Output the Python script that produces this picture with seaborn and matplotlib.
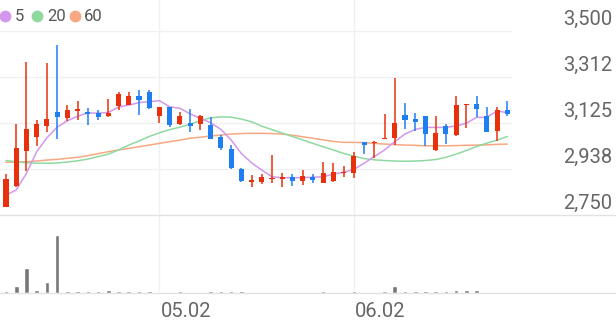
import numpy as np
import pandas as pd
import matplotlib
matplotlib.use("Agg")
import matplotlib.pyplot as plt
from matplotlib.lines import Line2D
import seaborn as sns

# ---------------- data ----------------
opens = [2784, 2868, 3011, 3069, 3114, 3169, 3144, 3175, 3170, 3167,
         3153, 3194, 3200, 3236, 3251, 3154, 3191, 3121, 3124, 3121,
         3117, 3069, 3018, 2936, 2885, 2885, 2898, 2898, 2906, 2890,
         2905, 2879, 2890, 2920, 2922, 3048, 3042, 3060, 3063, 3158,
         3140, 3154, 3015, 3114, 3077, 3197, 3202, 3154, 3094, 3178]
highs = [2916, 3120, 3375, 3137, 3371, 3443, 3198, 3215, 3186, 3178,
         3224, 3251, 3251, 3260, 3260, 3191, 3192, 3171, 3181, 3159,
         3148, 3076, 3035, 2940, 2912, 2917, 2995, 2922, 2917, 2933,
         2918, 2965, 2961, 2950, 3008, 3048, 3052, 3162, 3310, 3208,
         3165, 3154, 3154, 3121, 3235, 3203, 3235, 3189, 3189, 3215]
lows = [2782, 2866, 2931, 3031, 3090, 3059, 3134, 3137, 3117, 3137,
        3151, 3178, 3198, 3158, 3181, 3124, 3110, 3117, 3090, 3096,
        3058, 3015, 2936, 2886, 2865, 2876, 2879, 2863, 2868, 2872,
        2882, 2879, 2886, 2906, 2900, 2999, 2981, 3060, 3035, 3102,
        3094, 3031, 3012, 3039, 3072, 3103, 3148, 3090, 3053, 3154]
closes = [2897, 3024, 3099, 3121, 3140, 3151, 3178, 3183, 3162, 3148,
          3167, 3243, 3236, 3219, 3186, 3191, 3117, 3154, 3114, 3153,
          3059, 3022, 2940, 2890, 2893, 2904, 2902, 2906, 2890, 2909,
          2893, 2922, 2927, 2926, 2990, 3034, 3046, 3065, 3124, 3137,
          3128, 3080, 3083, 3080, 3197, 3202, 3183, 3090, 3178, 3162]
ma5 = [2831, 2852, 2920, 3008, 3065, 3108, 3134, 3153, 3166, 3165,
       3168, 3190, 3198, 3208, 3212, 3216, 3191, 3185, 3162, 3144,
       3126, 3099, 3056, 3001, 2963, 2933, 2906, 2902, 2902, 2902,
       2904, 2906, 2917, 2924, 2936, 2961, 2988, 3015, 3049, 3080,
       3099, 3107, 3107, 3107, 3113, 3124, 3148, 3148, 3174, 3167]
ma20 = [2972, 2967, 2963, 2961, 2961, 2962, 2966, 2971, 2978, 2988,
        2998, 3015, 3035, 3052, 3070, 3085, 3098, 3108, 3120, 3135,
        3146, 3150, 3149, 3141, 3130, 3112, 3098, 3084, 3070, 3056,
        3042, 3028, 3015, 3001, 2990, 2980, 2975, 2972, 2970, 2969,
        2970, 2972, 2976, 2985, 2998, 3013, 3029, 3043, 3055, 3070]
ma60 = [2965, 2966, 2967, 2970, 2974, 2977, 2981, 2985, 2992, 3000,
        3008, 3015, 3022, 3028, 3035, 3042, 3049, 3055, 3063, 3067,
        3072, 3076, 3080, 3082, 3083, 3083, 3082, 3080, 3075, 3069,
        3063, 3056, 3050, 3046, 3046, 3045, 3042, 3039, 3037, 3035,
        3034, 3032, 3032, 3032, 3033, 3034, 3035, 3036, 3038, 3039]
volumes = [17, 67, 250, 27, 110, 576, 22, 17, 15, 17,
           25, 17, 20, 15, 15, 13, 13, 15, 13, 13,
           15, 17, 15, 15, 13, 13, 13, 13, 13, 13,
           13, 15, 13, 13, 20, 13, 13, 23, 73, 22,
           20, 15, 15, 15, 33, 27, 25, 13, 13, 10]
x_tick_pos = [15, 34]
x_tick_labels = ["05.02", "06.02"]
y_ticks = [2750, 2937.5, 3125, 3312.5, 3500]
y_tick_labels = ["2,750", "2,938", "3,125", "3,312", "3,500"]
legend_labels = ["5", "20", "60"]

# ---------------- style ----------------
sns.set_style("white")
plt.rcParams['font.family'] = ['Roboto', 'DejaVu Sans']

RED = '#e8300c'
BLUE = '#1f7ff2'
MA_COLORS = ['#d497ee', '#8fd9a0', '#f7a882']
GRID = '#f0f0f0'
AXLINE = '#e2e2e2'

W, H = 616, 321
fig = plt.figure(figsize=(W / 100, H / 100), dpi=100)
ax = fig.add_axes([0, (H - 215) / H, 512 / W, 215 / H])
axv = fig.add_axes([0, (H - 293) / H, 512 / W, 78 / H])

df = pd.DataFrame({"i": np.arange(len(closes)), "open": opens, "high": highs,
                   "low": lows, "close": closes, "ma5": ma5, "ma20": ma20,
                   "ma60": ma60, "volume": volumes})
df["up"] = df["close"] >= df["open"]
df["color"] = np.where(df["up"], RED, BLUE)
df["body_bottom"] = df[["open", "close"]].min(axis=1)
df["body_h"] = np.maximum((df["close"] - df["open"]).abs(), 4)

xlim = (-0.587, 49.46)

# grid
for v in y_ticks[1:]:
    ax.axhline(v, color=GRID, lw=1, zorder=0)
for p in x_tick_pos:
    ax.axvline(p, color=GRID, lw=1, zorder=0)
    axv.axvline(p, color=GRID, lw=1, zorder=0)

# MA lines
for col, c in zip(["ma60", "ma20", "ma5"], MA_COLORS[::-1]):
    sns.lineplot(data=df, x="i", y=col, ax=ax, color=c, lw=1.1, legend=False, zorder=2)

# candles
ax.vlines(df["i"], df["low"], df["high"], colors=df["color"], lw=1.1, zorder=3)
ax.bar(df["i"], df["body_h"], bottom=df["body_bottom"], width=0.5,
       color=df["color"], lw=0, zorder=4)

ax.set_xlim(*xlim)
ax.set_ylim(2750, 3626.4)

# volume
sns.barplot(data=df, x="i", y="volume", ax=axv, native_scale=True,
            color='#777777', saturation=1, width=0.45, errorbar=None)
axv.set_xlim(*xlim)
axv.set_ylim(0, 778)

for a in (ax, axv):
    a.set_xticks([])
    a.set_yticks([])
    a.set_xlabel("")
    a.set_ylabel("")
    for s in a.spines.values():
        s.set_visible(False)
    a.patch.set_alpha(0)

# full-width base lines
for ypx in (215, 293):
    fig.add_artist(Line2D([0, 1], [1 - ypx / H] * 2, transform=fig.transFigure,
                          color=AXLINE, lw=1))

# y tick labels
for v, lab in zip(y_ticks, y_tick_labels):
    ax.annotate(lab, xy=(612 / W, v), xycoords=('figure fraction', 'data'),
                xytext=(0, 6), textcoords='offset pixels', ha='right',
                va='baseline', fontsize=14.5, color='#666666',
                annotation_clip=False)

# x tick labels
for p, lab in zip(x_tick_pos, x_tick_labels):
    axv.annotate(lab, xy=(p, 0), xycoords=('data', 'axes fraction'),
                 xytext=(1, -24), textcoords='offset pixels', ha='left',
                 va='baseline', fontsize=14.5, color='#666666',
                 annotation_clip=False)

# legend
circ_x = [5, 37, 75]
text_x = [15, 47, 84]
for cx, tx, c, lab in zip(circ_x, text_x, MA_COLORS, legend_labels):
    fig.add_artist(Line2D([cx / W], [1 - 15.7 / H], transform=fig.transFigure,
                          marker='o', markersize=7.5, color=c, lw=0))
    fig.text(tx / W, 1 - 21 / H, lab, ha='left', va='baseline',
             fontsize=12, color='#555555')

fig.savefig("out.png", dpi=100)
